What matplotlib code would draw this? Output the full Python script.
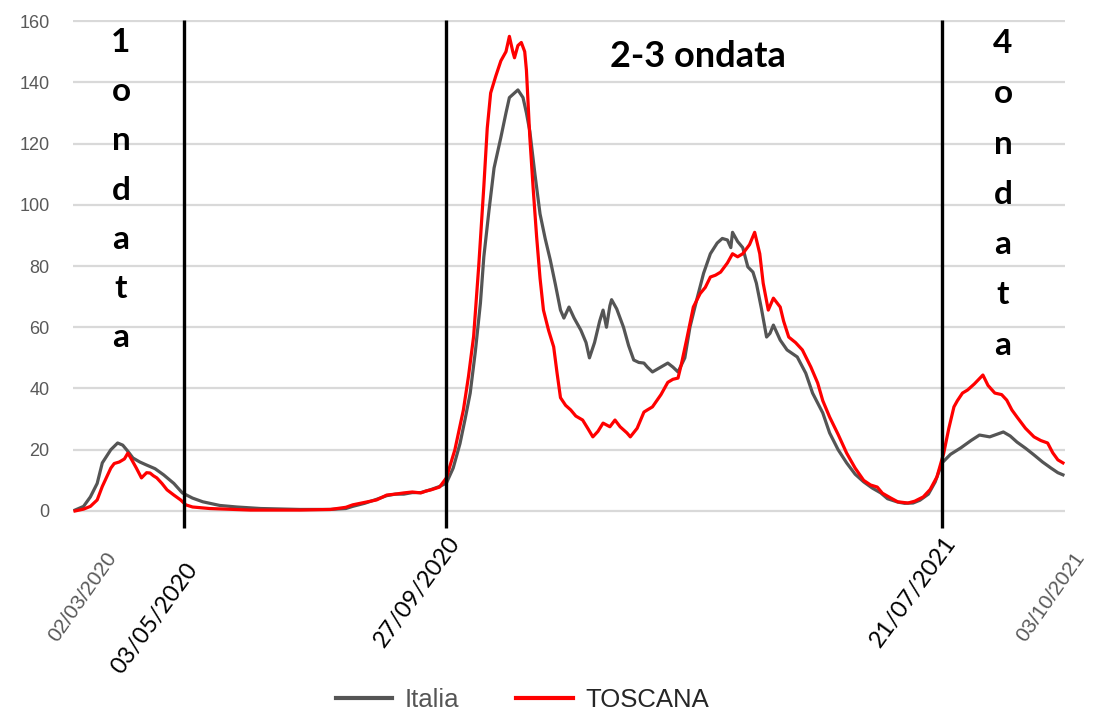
import matplotlib
matplotlib.use("Agg")
import matplotlib.pyplot as plt
import matplotlib.transforms as mtransforms

# giorni dal 02/03/2020 (asse 0..580 = 02/03/2020..03/10/2021)
italia_days = [0, 5, 9, 13, 16, 21, 25, 28, 31, 34, 38, 42, 47, 52, 58, 63, 69, 75, 85, 95,
               109, 132, 150, 159, 163, 170, 177, 183, 188, 193, 198, 203, 209, 214, 218,
               222, 226, 229, 232, 235, 238, 240, 243, 246, 250, 253, 255, 260, 263, 265,
               267, 270, 273, 276, 279, 282, 285, 287, 290, 293, 297, 300, 302, 305, 308,
               310, 312, 314, 315, 318, 322, 325, 328, 331, 334, 336, 339, 344, 348, 351,
               354, 358, 361, 365, 369, 373, 377, 380, 383, 385, 386, 389, 392, 395, 398,
               400, 403, 406, 408, 410, 414, 418, 424, 429, 433, 439, 443, 448, 453, 458,
               463, 468, 473, 477, 483, 487, 492, 496, 501, 505, 509, 514, 520, 526, 531,
               537, 545, 549, 553, 558, 563, 568, 573, 577, 580]
italia_vals = [0.3, 1.5, 4.6, 9, 15.7, 20, 22.2, 21.5, 19.5, 17.3, 16, 15, 13.8, 11.8, 9, 5.9,
               4.2, 3, 1.8, 1.3, 0.8, 0.5, 0.5, 0.8, 1.5, 2.5, 3.8, 5, 5.5, 5.5, 6, 6, 7, 8,
               9.1, 14, 22, 30, 38.5, 52, 67.9, 83, 98, 112, 122, 130, 135, 137.5, 135, 130,
               124, 110, 97, 89, 82, 74, 65.6, 63, 66.6, 63, 59, 55, 50, 55, 62, 65.6, 60,
               67, 69, 66, 60, 54, 49.3, 48.5, 48.3, 47, 45.4, 47, 48.3, 47, 45.4, 50, 60,
               69, 77.6, 84, 87.5, 89, 88.5, 86, 91, 88, 86, 79.7, 78, 74.4, 66, 56.8, 58,
               60.7, 55.8, 52.6, 50.3, 45, 38.5, 32, 25.5, 20, 15.7, 12, 9.5, 7.5, 5.9, 4,
               2.9, 2.5, 2.6, 3.5, 5.5, 9.5, 15.7, 18.5, 20.6, 23, 24.8, 24.2, 25.8, 24.5,
               22.5, 20.5, 18.3, 16, 14, 12.5, 11.8]

toscana_days = [0, 5, 9, 13, 16, 21, 23, 26, 29, 31, 33, 36, 39, 42, 44, 46, 48, 51, 54, 58,
                62, 65, 69, 79, 103, 132, 150, 159, 163, 170, 177, 183, 188, 193, 198, 203,
                206, 209, 214, 218, 223, 228, 231, 234, 237, 240, 242, 244, 247, 250, 253,
                255, 257, 258, 260, 262, 264, 265, 267, 269, 271, 273, 275, 278, 281, 283,
                285, 288, 291, 294, 298, 301, 304, 307, 310, 314, 317, 320, 324, 326, 330,
                334, 336, 339, 344, 348, 351, 354, 356, 359, 363, 367, 370, 373, 376, 379,
                383, 386, 389, 392, 396, 399, 402, 404, 407, 410, 414, 416, 419, 423, 427,
                432, 436, 439, 443, 448, 453, 458, 463, 467, 471, 474, 479, 483, 489, 493,
                498, 502, 506, 510, 513, 516, 518, 521, 524, 528, 533, 536, 540, 544, 547,
                550, 553, 558, 563, 567, 571, 574, 577, 580]
toscana_vals = [0, 0.6, 1.5, 3.6, 8, 14, 15.5, 16, 17, 18.9, 17, 14, 10.8, 12.5, 12.4, 11.5,
                10.8, 9, 6.9, 5.2, 3.6, 2, 1.3, 0.8, 0.3, 0.3, 0.5, 1.2, 2, 2.8, 3.6, 5.2,
                5.5, 5.9, 6.2, 5.9, 6.5, 6.9, 7.8, 10.8, 20, 33, 44, 57, 80, 106, 125, 136.5,
                142, 147, 150, 155, 150, 148, 152, 153, 150, 144, 122, 105, 89.5, 76, 65.6,
                59, 53.6, 45, 37, 34.5, 33, 31, 29.7, 27, 24.2, 26, 28.7, 27.5, 29.7, 27.5,
                25.5, 24.2, 27, 32.3, 33, 34, 38, 42, 43, 43.4, 48, 55.8, 66.6, 71, 73, 76.4,
                77, 78, 81, 84, 83, 84, 87, 91, 84, 74.4, 65.6, 69.5, 66.6, 62, 56.8, 55,
                52.6, 47, 41.8, 36, 30.7, 25, 18.9, 14, 10, 8.5, 7.8, 5.8, 4.2, 3, 2.6, 3.2,
                4.6, 7, 11.1, 18.9, 27, 34, 36, 38.5, 39.5, 41.5, 44.4, 41, 38.5, 38, 36.2,
                33, 30.7, 27, 24.2, 23, 22.2, 19, 16.7, 15.7]

# separatori delle ondate (giorni) e relative etichette
wave_days = [64, 218, 509]
wave_labels = ["03/05/2020", "27/09/2020", "21/07/2021"]
axis_days = [0, 580]
axis_labels = ["02/03/2020", "03/10/2021"]
y_ticks = [0, 20, 40, 60, 80, 100, 120, 140, 160]

GRAY, RED = "#555555", "#ff0000"

fig = plt.figure(figsize=(10.93, 7.25), dpi=100)
ax = fig.add_axes([73 / 1093, 0.2931, (1065 - 73) / 1093, 0.680])
ax.plot(italia_days, italia_vals, color=GRAY, lw=2.3, label="Italia", zorder=3)
ax.plot(toscana_days, toscana_vals, color=RED, lw=2.3, label="TOSCANA", zorder=4)
ax.set_xlim(-1.2, 581.2)
ax.set_ylim(-0.5, 160.5)
ax.set_yticks(y_ticks)
ax.set_xticks([])
for s in ax.spines.values():
    s.set_visible(False)
ax.grid(axis="y", color="#d9d9d9", lw=1.6, zorder=0)
ax.tick_params(axis="y", length=0, pad=17, labelsize=13, labelcolor="#595959")
for t in ax.get_yticklabels():
    t.set_family("Liberation Sans")

# linee verticali nere (sporgono sotto l'asse)
ax.vlines(wave_days, -5.6, 160.3, color="black", lw=2.4, clip_on=False, zorder=5)

base = mtransforms.blended_transform_factory(ax.transData, ax.transAxes)
for d, lab, dx in zip(axis_days, axis_labels, [30, 10]):
    tr = mtransforms.offset_copy(base, fig=fig, x=dx, y=-36, units="dots")
    ax.text(d, 0, lab, transform=tr, rotation=55, rotation_mode="anchor", ha="right",
            va="top", fontsize=15, color="#595959", family="Liberation Sans")
for d, lab, dy in zip(wave_days, wave_labels, [-47, -20, -20]):
    tr = mtransforms.offset_copy(base, fig=fig, x=1, y=dy, units="dots")
    ax.text(d, 0, lab, transform=tr, rotation=54, rotation_mode="anchor", ha="right",
            va="top", fontsize=17, color="black", family="Lato")

# scritte delle ondate
def stacked(word, px, py0, step):
    for i, ch in enumerate(word):
        fig.text(px / 1093, 1 - (py0 + i * step) / 725, ch, ha="center", va="baseline",
                 fontsize=24, fontweight="bold", family="Lato", color="black")

stacked("1ondata", 121, 52, 49.2)
stacked("4ondata", 1003, 53, 50.3)
fig.text(698 / 1093, 1 - 67 / 725, "2-3 ondata", ha="center", va="baseline",
         fontsize=26, fontweight="bold", family="Lato", color="black")

leg = fig.legend(loc="lower center", bbox_to_anchor=(0.478, -0.014), ncol=2, frameon=False,
                 handlelength=2.2, handletextpad=0.5, columnspacing=2.2,
                 prop={"family": "Liberation Sans", "size": 18.5})
for txt, c in zip(leg.get_texts(), ["#555555", "#262626"]):
    txt.set_color(c)
for ln in leg.get_lines():
    ln.set_linewidth(3)

fig.savefig("out.png", dpi=100)
